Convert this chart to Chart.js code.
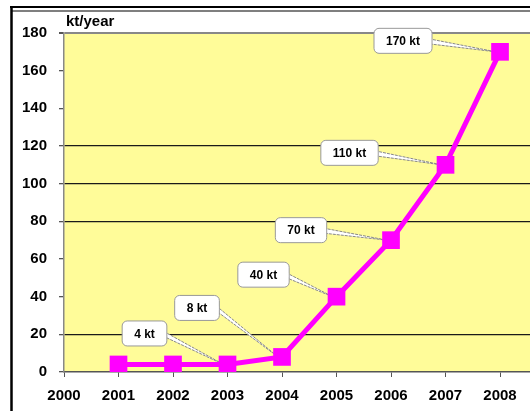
<!DOCTYPE html>
<html>
<head>
<meta charset="utf-8">
<script src="https://cdn.jsdelivr.net/npm/chart.js@4"></script>
<style>
    body { margin: 0; background: #fff; }
    canvas { display: block; }
</style>
</head>
<body>
<canvas id="prodChart" width="530" height="411"></canvas>
<script>
const years = [2001, 2002, 2003, 2004, 2005, 2006, 2007, 2008];
const production = [4, 4, 4, 8, 40, 70, 110, 170];
const calloutLabels = ['', '', '4 kt', '8 kt', '40 kt', '70 kt', '110 kt', '170 kt'];
const xTickLabels = ['2000', '2001', '2002', '2003', '2004', '2005', '2006', '2007', '2008'];
const unitLabel = 'kt/year';

// where each callout box sits, relative to its point
const calloutOffsets = [null, null, [-83, -31], [-85, -49], [-73, -22], [-90, -10], [-96, -12], [-97, -11]];
const darkGrid = [20, 80, 100, 120];

const FONT = '"Liberation Sans", Arial, sans-serif';

const framePlugin = {
    id: 'frame',
    beforeDraw(chart) {
        const ctx = chart.ctx;
        const a = chart.chartArea;
        ctx.save();
        ctx.fillStyle = '#fff';
        ctx.fillRect(0, 0, chart.width, chart.height);
        ctx.fillStyle = '#FFFC99';
        ctx.fillRect(a.left, a.top, a.right - a.left, a.bottom - a.top);
        ctx.strokeStyle = '#000';
        ctx.lineWidth = 2.5;
        ctx.beginPath();
        ctx.moveTo(11.5, 6);
        ctx.lineTo(11.5, chart.height);
        ctx.stroke();
        ctx.lineWidth = 2;
        ctx.beginPath();
        ctx.moveTo(10, 7);
        ctx.lineTo(chart.width, 7);
        ctx.stroke();
        ctx.lineWidth = 1.2;
        ctx.beginPath();
        ctx.moveTo(12, 11);
        ctx.lineTo(chart.width, 11);
        ctx.stroke();
        ctx.fillStyle = '#000';
        ctx.font = 'bold 15px ' + FONT;
        ctx.textBaseline = 'alphabetic';
        ctx.fillText(unitLabel, a.left + 2, 26);
        ctx.restore();
    }
};

const calloutPlugin = {
    id: 'callouts',
    beforeDatasetsDraw(chart) {
        const ctx = chart.ctx;
        const meta = chart.getDatasetMeta(0);
        ctx.save();
        ctx.font = 'bold 12px ' + FONT;
        ctx.textAlign = 'center';
        ctx.textBaseline = 'middle';
        calloutLabels.forEach((txt, i) => {
            if (!txt) return;
            const pt = meta.data[i];
            const off = calloutOffsets[i];
            const cx = pt.x + off[0];
            const cy = pt.y + off[1];
            const w = ctx.measureText(txt).width + 24;
            const h = 25;
            const right = cx + w / 2;

            // thin wedge pointing at the marker
            ctx.beginPath();
            ctx.moveTo(right - 3, cy - 2);
            ctx.lineTo(pt.x - 4, pt.y);
            ctx.lineTo(right - 3, cy + 3);
            ctx.closePath();
            ctx.fillStyle = '#fff';
            ctx.fill();
            ctx.strokeStyle = '#888';
            ctx.lineWidth = 1;
            ctx.setLineDash([3, 1]);
            ctx.stroke();
            ctx.setLineDash([]);

            ctx.beginPath();
            ctx.roundRect(cx - w / 2, cy - h / 2, w, h, 5);
            ctx.fillStyle = '#fff';
            ctx.fill();
            ctx.strokeStyle = '#999';
            ctx.stroke();
            // re-cover the wedge base
            ctx.fillRect(right - 4, cy - 1.5, 3, 4);

            ctx.fillStyle = '#000';
            ctx.fillText(txt, cx, cy + 1);
        });
        ctx.restore();
    }
};

function createChart() {
    const ctx = document.getElementById('prodChart').getContext('2d');

    new Chart(ctx, {
        type: 'line',
        data: {
            datasets: [{
                data: years.map((y, i) => ({ x: y, y: production[i] })),
                borderColor: '#FF00FF',
                backgroundColor: '#FF00FF',
                borderWidth: 5,
                tension: 0,
                pointStyle: 'rect',
                pointRadius: 12.5,
                pointBorderWidth: 0,
                fill: false
            }]
        },
        options: {
            responsive: false,
            animation: false,
            layout: {
                autoPadding: false,
                padding: { left: 0, top: 33, right: 0, bottom: 0 }
            },
            plugins: {
                legend: { display: false },
                tooltip: { enabled: false }
            },
            scales: {
                x: {
                    type: 'linear',
                    min: 2000,
                    max: 2008.55,
                    afterBuildTicks(scale) {
                        scale.ticks = xTickLabels.map(t => ({ value: Number(t) }));
                    },
                    afterFit(scale) {
                        scale.height = 39;
                        scale.paddingRight = 0;
                        scale.paddingLeft = 0;
                    },
                    ticks: {
                        autoSkip: false,
                        maxRotation: 0,
                        padding: 10,
                        color: '#000',
                        font: { family: FONT, size: 15, weight: 'bold' },
                        callback: v => String(v)
                    },
                    grid: {
                        drawOnChartArea: false,
                        tickLength: 5,
                        tickColor: '#555'
                    },
                    border: { color: '#555', width: 1.5 }
                },
                y: {
                    min: 0,
                    max: 180,
                    afterFit(scale) { scale.width = 64; },
                    ticks: {
                        stepSize: 20,
                        padding: 12,
                        color: '#000',
                        font: { family: FONT, size: 15, weight: 'bold' }
                    },
                    grid: {
                        tickLength: 5,
                        tickColor: '#555',
                        color: c => {
                            const v = c.tick && c.tick.value;
                            if (darkGrid.includes(v)) return '#1a1a1a';
                            if (v === 180) return '#888';
                            return 'rgba(0,0,0,0)';
                        },
                        lineWidth: c => (c.tick && c.tick.value === 180) ? 2 : 1.3
                    },
                    border: { color: '#888', width: 1.5 }
                }
            }
        },
        plugins: [framePlugin, calloutPlugin]
    });
}

document.addEventListener('DOMContentLoaded', createChart);
</script>
</body>
</html>
